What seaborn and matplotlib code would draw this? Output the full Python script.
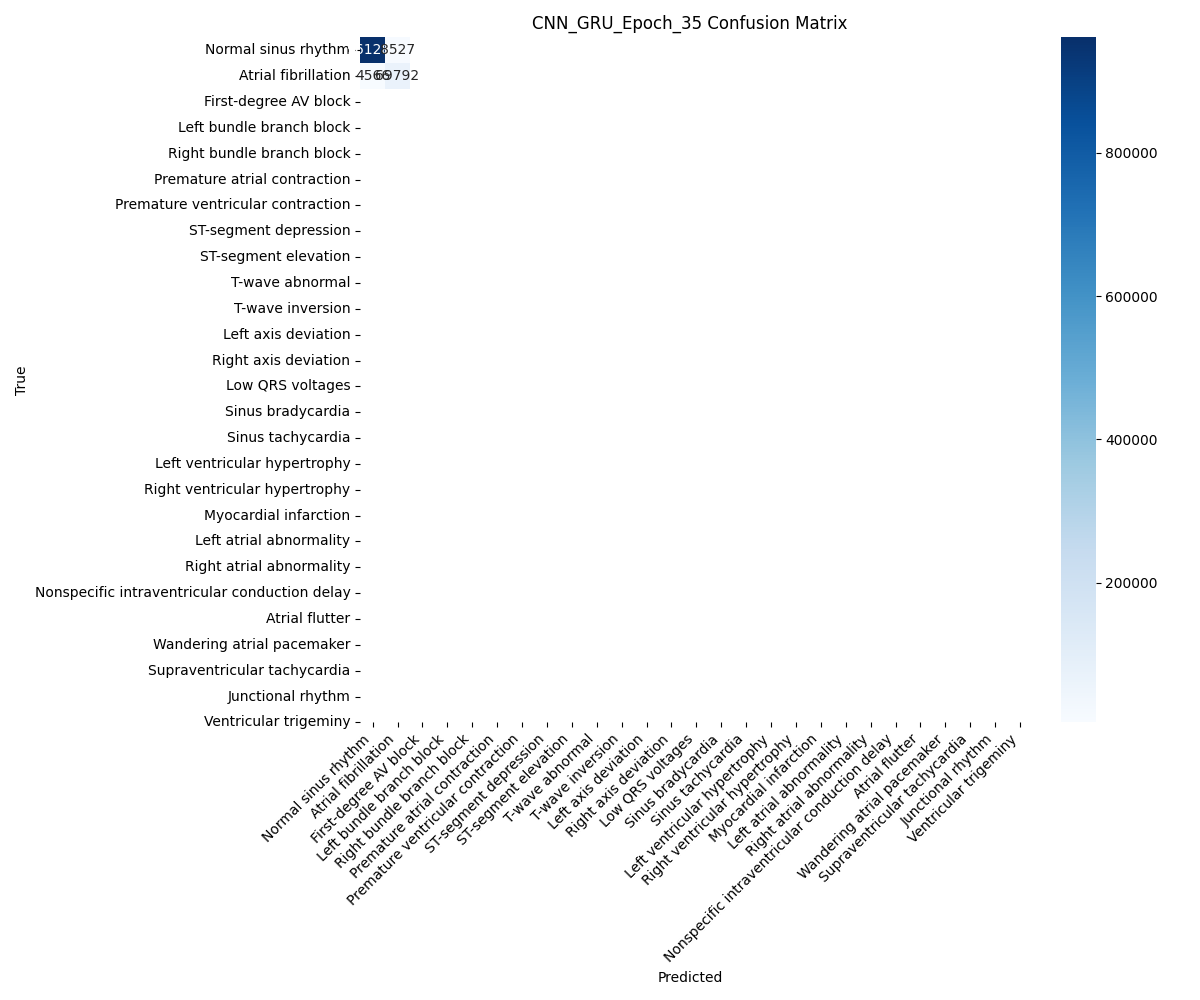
import numpy as np
import matplotlib
matplotlib.use("Agg")
import matplotlib.pyplot as plt
import seaborn as sns

# class names (27) -- the matrix itself only has the first two classes
class_names = [
    "Normal sinus rhythm", "Atrial fibrillation", "First-degree AV block",
    "Left bundle branch block", "Right bundle branch block",
    "Premature atrial contraction", "Premature ventricular contraction",
    "ST-segment depression", "ST-segment elevation", "T-wave abnormal",
    "T-wave inversion", "Left axis deviation", "Right axis deviation",
    "Low QRS voltages", "Sinus bradycardia", "Sinus tachycardia",
    "Left ventricular hypertrophy", "Right ventricular hypertrophy",
    "Myocardial infarction", "Left atrial abnormality",
    "Right atrial abnormality",
    "Nonspecific intraventricular conduction delay", "Atrial flutter",
    "Wandering atrial pacemaker", "Supraventricular tachycardia",
    "Junctional rhythm", "Ventricular trigeminy",
]

row_normal = [961283, 8527]
row_afib = [4566, 69792]

cm = np.array([row_normal, row_afib])

fig, ax = plt.subplots(figsize=(12, 10))
sns.heatmap(cm, annot=True, fmt='d', cmap='Blues',
            xticklabels=class_names, yticklabels=class_names, ax=ax)
ax.set_xlabel('Predicted')
ax.set_ylabel('True')
ax.set_title('CNN_GRU_Epoch_35 Confusion Matrix')
plt.xticks(rotation=45, ha='right')
plt.yticks(rotation=0)

plt.tight_layout()
plt.savefig('out.png', dpi=100)
plt.close()
